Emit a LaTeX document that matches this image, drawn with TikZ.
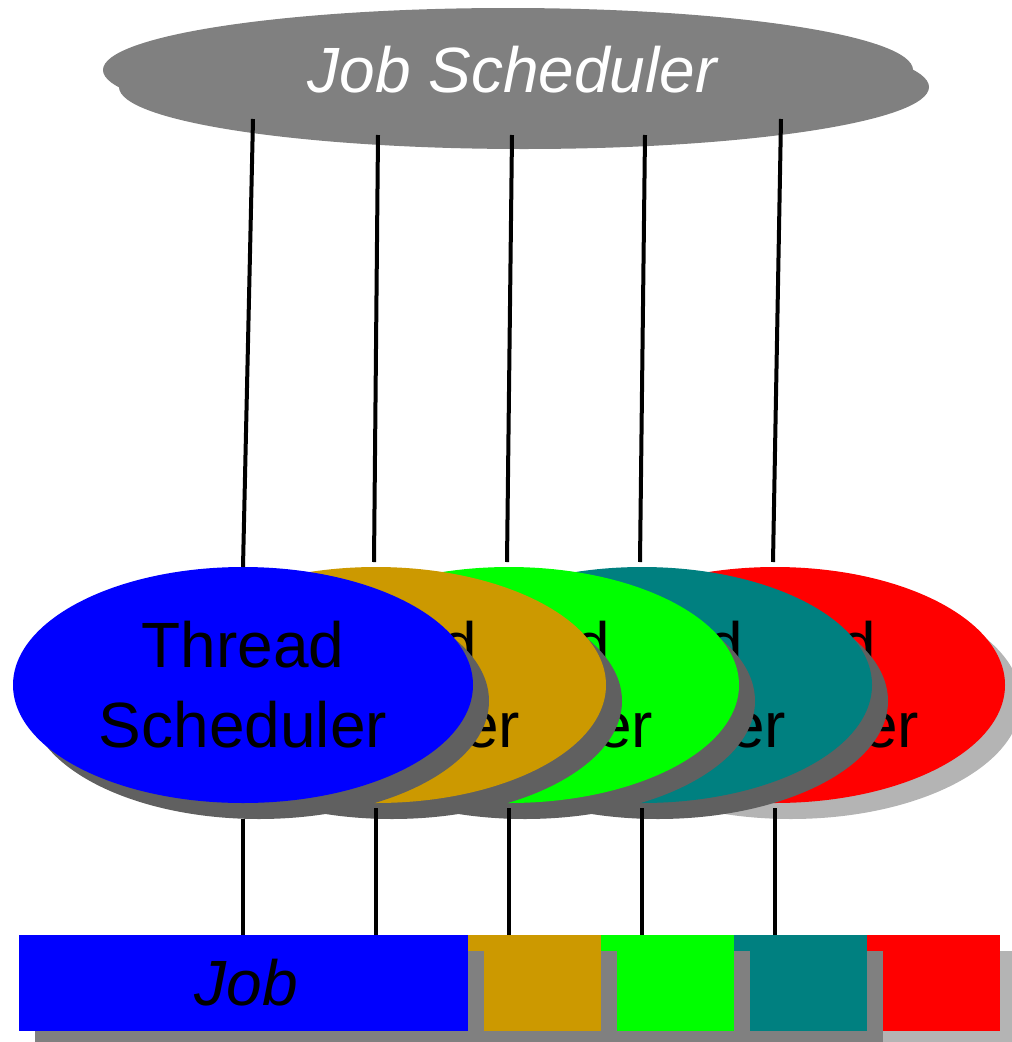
\documentclass[tikz,border=0pt]{standalone}
\usepackage{fontspec}
\newfontfamily\arialfont{Liberation Sans}
\usetikzlibrary{shapes.geometric,shadows}

\definecolor{jgray}{RGB}{128,128,128}
\definecolor{sdark}{RGB}{96,96,96}
\definecolor{slight}{RGB}{180,180,180}
\definecolor{cblue}{RGB}{0,0,255}
\definecolor{cgold}{RGB}{204,153,0}
\definecolor{cgreen}{RGB}{0,255,0}
\definecolor{cteal}{RGB}{0,128,128}
\definecolor{cred}{RGB}{255,0,0}

\begin{document}
\begin{tikzpicture}[x=1pt,y=-1pt,
  every node/.style={inner sep=0pt, outer sep=0pt},
  bigtext/.style={font=\arialfont\fontsize{64}{80}\selectfont},
  bigitalic/.style={font=\arialfont\itshape\fontsize{64}{80}\selectfont},
  % offset copies that sit behind each shape
  shadeA/.style={general shadow={fill=#1, shadow xshift=16pt, shadow yshift=-16pt}},
  jobsched/.style={ellipse, fill=jgray, minimum width=810pt, minimum height=124pt,
                   bigitalic, text=white,
                   general shadow={fill=jgray, shadow xshift=16pt, shadow yshift=-17pt}},
  thread/.style={ellipse, minimum width=460pt, minimum height=236pt,
                 bigtext, text=black, align=center},
  bar/.style={rectangle, minimum width=133pt, minimum height=96pt},
  wire/.style={draw=black, line width=4pt}
]
\clip (0,0) rectangle (1012,1042);

% top-level scheduler
\node[jobsched] (js) at (508,70) {\kern8pt Job Scheduler};

% thread schedulers, back to front
\node[thread, fill=cred,   shadeA=slight] (ts5) at (775,685) {Thread\\Scheduler};
\node[thread, fill=cteal,  shadeA=sdark]  (ts4) at (642,685) {Thread\\Scheduler};
\node[thread, fill=cgreen, shadeA=sdark]  (ts3) at (509,685) {Thread\\Scheduler};
\node[thread, fill=cgold,  shadeA=sdark]  (ts2) at (376,685) {Thread\\Scheduler};
\node[thread, fill=cblue,  shadeA=sdark]  (ts1) at (243,685) {Thread\\Scheduler};

% job bar segments, back to front
\node[bar, fill=cred,   shadeA=slight] (b5) at (933.5,983) {};
\node[bar, fill=cteal,  shadeA=jgray]  (b4) at (800.5,983) {};
\node[bar, fill=cgreen, shadeA=jgray]  (b3) at (667.5,983) {};
\node[bar, fill=cgold,  shadeA=jgray]  (b2) at (534.5,983) {};
\node[bar, fill=cblue,  shadeA=jgray, minimum width=449pt, bigitalic, text=black] (b1) at (243.5,983) {\kern6pt Job};

% links from the job scheduler down to the thread schedulers
\coordinate (j1) at ([shift={(-255,49)}]js.center);
\coordinate (j2) at ([shift={(-130,65)}]js.center);
\coordinate (j3) at ([shift={(4,65)}]js.center);
\coordinate (j4) at ([shift={(137,65)}]js.center);
\coordinate (j5) at ([shift={(273,49)}]js.center);
\draw[wire] (j1) -- (ts1.north);
\draw[wire] (j2) -- ([shift={(-2,-5)}]ts2.north);
\draw[wire] (j3) -- ([shift={(-2,-5)}]ts3.north);
\draw[wire] (j4) -- ([shift={(-2,-5)}]ts4.north);
\draw[wire] (j5) -- ([shift={(-2,-5)}]ts5.north);

% links from the thread schedulers down to the job bar
\draw[wire] ([shift={(0,16)}]ts1.south) -- (ts1.south |- b1.north);
\draw[wire] ([shift={(0,5)}]ts2.south) -- (ts2.south |- b1.north);
\draw[wire] ([shift={(0,5)}]ts3.south) -- (ts3.south |- b1.north);
\draw[wire] ([shift={(0,5)}]ts4.south) -- (ts4.south |- b1.north);
\draw[wire] ([shift={(0,5)}]ts5.south) -- (ts5.south |- b1.north);
\end{tikzpicture}
\end{document}
